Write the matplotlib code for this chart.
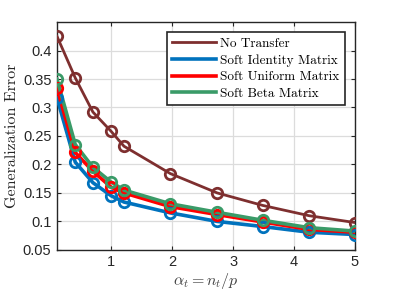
import matplotlib
matplotlib.use("Agg")
import matplotlib.pyplot as plt

plt.rcParams["mathtext.fontset"] = "cm"

# data
alpha = [0.11, 0.41, 0.70, 1.0, 1.21, 1.97, 2.74, 3.49, 4.25, 5.0]
no_transfer = [0.425, 0.352, 0.292, 0.258, 0.232, 0.184, 0.150, 0.128, 0.110, 0.098]
soft_identity = [0.317, 0.204, 0.168, 0.145, 0.134, 0.115, 0.100, 0.091, 0.081, 0.077]
soft_uniform = [0.334, 0.221, 0.188, 0.160, 0.150, 0.126, 0.112, 0.099, 0.086, 0.081]
soft_beta = [0.350, 0.235, 0.195, 0.169, 0.155, 0.131, 0.116, 0.102, 0.089, 0.083]

labels = ["No Transfer", "Soft Identity Matrix", "Soft Uniform Matrix", "Soft Beta Matrix"]
series = [no_transfer, soft_identity, soft_uniform, soft_beta]
colors = ["#7E2F2F", "#0072BD", "#FF0000", "#3A9B68"]
widths = [2.0, 2.6, 2.6, 2.6]

xticks = [1, 2, 3, 4, 5]
yticks = [0.05, 0.1, 0.15, 0.2, 0.25, 0.3, 0.35, 0.4]
ytick_labels = ["0.05", "0.1", "0.15", "0.2", "0.25", "0.3", "0.35", "0.4"]

fig = plt.figure(figsize=(3.93, 2.94), dpi=100)
ax = fig.add_axes([0.145, 0.15, 0.758, 0.775])

for ys, lab, c, lw in zip(series, labels, colors, widths):
    ax.plot(alpha, ys, color=c, linewidth=lw, label=lab, zorder=3)
    ax.plot(alpha, ys, linestyle="none", marker="o", markersize=7.5,
            markerfacecolor="none", markeredgecolor=c, markeredgewidth=2.0, zorder=4)

ax.set_xlim(0.11, 5.0)
ax.set_ylim(0.05, 0.45)
ax.set_xticks(xticks)
ax.set_xticklabels([str(t) for t in xticks])
ax.set_yticks(yticks)
ax.set_yticklabels(ytick_labels)
ax.tick_params(direction="in", top=True, right=True, length=3, width=0.8,
               labelsize=10.5, colors="#262626", pad=4)
for lab in ax.get_xticklabels() + ax.get_yticklabels():
    lab.set_fontfamily("Liberation Sans")
    lab.set_color("#262626")
ax.grid(color="#dcdcdc", linewidth=0.9, zorder=0)
for sp in ax.spines.values():
    sp.set_edgecolor("#262626")
    sp.set_linewidth(1.0)

ax.set_xlabel(r"$\alpha_t = n_t/p$", fontsize=11.5, color="#404040", labelpad=1)
ax.set_ylabel("Generalization Error", fontsize=11.5, fontfamily="cmr10",
              color="#262626", labelpad=3)

leg = ax.legend(loc="upper right", bbox_to_anchor=(0.966, 0.956),
                prop={"family": "cmr10", "size": 9.5}, frameon=True, fancybox=False,
                edgecolor="#262626", framealpha=1, handlelength=3.3, handletextpad=0.35,
                labelspacing=0.33, borderpad=0.4, borderaxespad=0)
leg.get_frame().set_linewidth(1.2)

fig.savefig("out.png", dpi=100)
